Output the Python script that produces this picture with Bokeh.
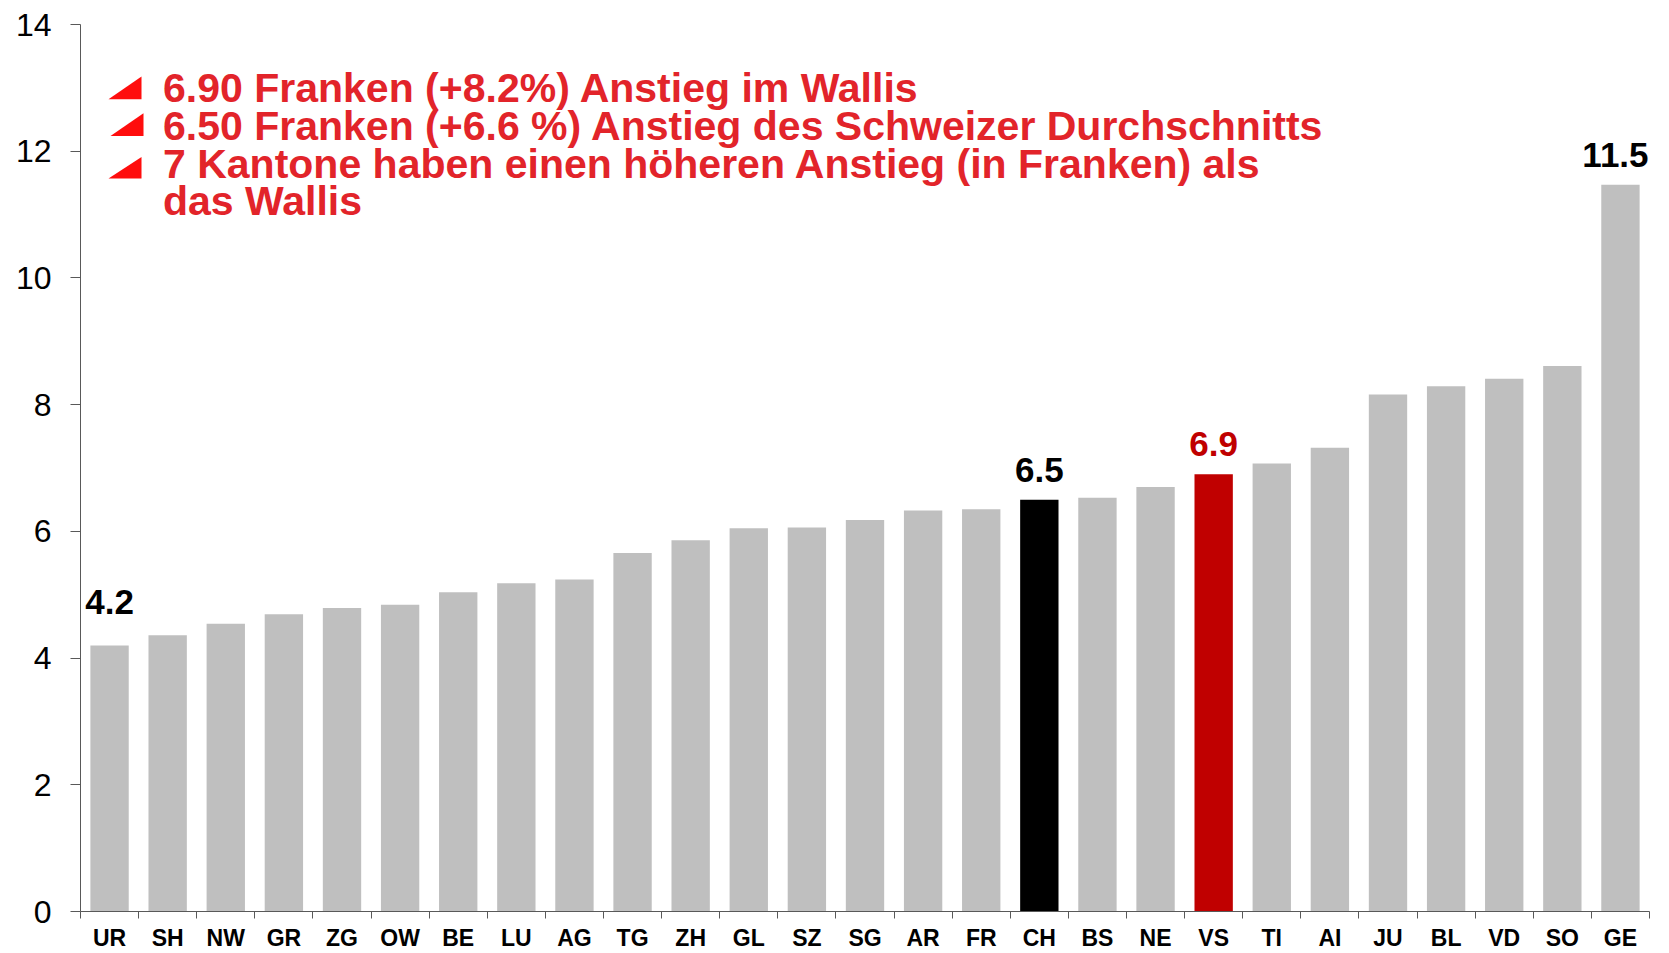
from bokeh.plotting import figure
from bokeh.models import (Range1d, FixedTicker, LinearAxis, LabelSet,
                          Label, PolyAnnotation, ColumnDataSource)
from bokeh.embed import file_html
from bokeh.resources import INLINE
from bokeh.core.properties import value

# ---- data ----
cantons = ["UR", "SH", "NW", "GR", "ZG", "OW", "BE", "LU", "AG", "TG", "ZH", "GL", "SZ",
           "SG", "AR", "FR", "CH", "BS", "NE", "VS", "TI", "AI", "JU", "BL", "VD", "SO", "GE"]
increase = [4.2, 4.36, 4.54, 4.69, 4.79, 4.84, 5.04, 5.18, 5.24, 5.66, 5.86, 6.05, 6.06,
            6.18, 6.33, 6.35, 6.5, 6.53, 6.70, 6.9, 7.07, 7.32, 8.16, 8.29, 8.41, 8.61, 11.47]
highlight = {"CH": "#000000", "VS": "#C00000"}
labelled = ["UR", "CH", "VS", "GE"]
y_ticks = [0, 2, 4, 6, 8, 10, 12, 14]
notes = ["6.90 Franken (+8.2%) Anstieg im Wallis",
         "6.50 Franken (+6.6 %) Anstieg des Schweizer Durchschnitts",
         "7 Kantone haben einen höheren Anstieg (in Franken) als",
         "das Wallis"]

FONT = "Liberation Sans"
GREY = "#BFBFBF"
AXIS = "#595959"
NOTE_RED = "#E2242A"

colors = [highlight.get(c, GREY) for c in cantons]
src = ColumnDataSource(dict(canton=cantons, value=increase, color=colors))

p = figure(x_range=cantons, y_range=Range1d(0, 14), width=1669, height=953,
           output_backend="svg", toolbar_location=None,
           x_axis_location=None, y_axis_location=None,
           min_border_left=80, min_border_top=24, min_border_right=20, min_border_bottom=0)
p.outline_line_color = None
p.background_fill_color = "white"
p.border_fill_color = "white"
p.grid.grid_line_color = None

# y axis
yax = LinearAxis(ticker=FixedTicker(ticks=y_ticks))
yax.axis_line_color = AXIS
yax.major_tick_line_color = AXIS
yax.major_tick_out = 10
yax.major_tick_in = 0
yax.minor_tick_line_color = None
yax.major_label_standoff = 19
yax.major_label_text_font = FONT
yax.major_label_text_font_size = "32px"
yax.major_label_text_color = "black"
p.add_layout(yax, "left")

# x axis: labels at category centres, tick marks at category boundaries
n = len(cantons)
centres = [i + 0.5 for i in range(n)]
xax = LinearAxis(ticker=FixedTicker(ticks=centres, minor_ticks=list(range(n + 1))))
xax.major_label_overrides = {c: name for c, name in zip(centres, cantons)}
xax.axis_line_color = AXIS
xax.major_tick_line_color = None
xax.major_tick_out = 7
xax.major_tick_in = 0
xax.minor_tick_line_color = AXIS
xax.minor_tick_out = 7
xax.minor_tick_in = 0
xax.major_label_standoff = 6
xax.major_label_text_font = FONT
xax.major_label_text_font_style = "bold"
xax.major_label_text_font_size = "23px"
xax.major_label_text_color = "black"
p.add_layout(xax, "below")

p.vbar(x="canton", top="value", width=0.66, fill_color="color", line_color=None, source=src)

# value labels
lab_vals = [increase[cantons.index(c)] for c in labelled]
lab_cols = [highlight.get(c, "#000000") for c in labelled]
lab_off = [31 if c == "UR" else 18 for c in labelled]
lab_xoff = [-5 if c == "GE" else 0 for c in labelled]
lsrc = ColumnDataSource(dict(canton=labelled, value=lab_vals,
                             txt=[f"{v:.1f}" for v in lab_vals], color=lab_cols,
                             off=lab_off, xoff=lab_xoff))
p.add_layout(LabelSet(x="canton", y="value", text="txt", y_offset="off", x_offset="xoff",
                      text_color="color", text_align="center", text_baseline="alphabetic",
                      text_font=value(FONT), text_font_style="bold", text_font_size="35px",
                      source=lsrc))

# notes
note_y = [13.0, 12.40, 11.80, 11.22]
for t, yy in zip(notes, note_y):
    p.add_layout(Label(x=1.42, y=yy, text=t, text_color=NOTE_RED, text_font=FONT,
                       text_font_style="bold", text_font_size="41px",
                       text_baseline="alphabetic", text_align="left"))

tri = [(0.482, 1.05, 12.82, 13.18), (0.516, 1.084, 12.24, 12.60), (0.482, 1.05, 11.57, 11.91)]
for x0, x1, y0, y1 in tri:
    p.add_layout(PolyAnnotation(xs=[x0, x1, x1], ys=[y0, y0, y1], fill_color="#FF0D0D",
                                fill_alpha=1, line_color=None))

open("out.html", "w").write(file_html(p, INLINE))
